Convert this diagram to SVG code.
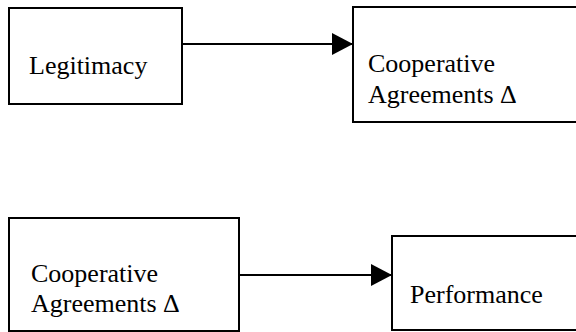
<svg xmlns="http://www.w3.org/2000/svg" width="576" height="332" viewBox="0 0 576 332">
<defs>
<style>
.box{fill:#fff;stroke:#000;stroke-width:2}
.lbl{font-size:26px;fill:#000}
.edge{stroke:#000;stroke-width:2;fill:none}
</style>
<marker id="ah" markerUnits="userSpaceOnUse" markerWidth="21" markerHeight="22" refX="20" refY="11" orient="auto">
<path d="M0,0 L21,11 L0,22 Z" fill="#000"/>
</marker>
</defs>
<rect width="576" height="332" fill="#fff"/>
<g font-family="'Liberation Serif', 'DejaVu Serif', serif">
<g id="legitimacy">
<rect class="box" x="9" y="8" width="173" height="96"/>
<text class="lbl" x="29" y="74">Legitimacy</text>
</g>
<g id="coop1">
<rect class="box" x="353" y="7" width="230" height="115"/>
<text class="lbl" x="368" y="72">Cooperative</text>
<text class="lbl" x="368" y="103">Agreements Δ</text>
</g>
<g id="coop2">
<rect class="box" x="9" y="218" width="230" height="113"/>
<text class="lbl" x="31" y="282">Cooperative</text>
<text class="lbl" x="31" y="312">Agreements Δ</text>
</g>
<g id="performance">
<rect class="box" x="392" y="236" width="191" height="94"/>
<text class="lbl" x="410" y="303">Performance</text>
</g>
</g>
<g id="connectors">
<line class="edge" x1="182" y1="44" x2="352" y2="44" marker-end="url(#ah)"/>
<line class="edge" x1="239" y1="275" x2="391" y2="275" marker-end="url(#ah)"/>
</g>
</svg>
